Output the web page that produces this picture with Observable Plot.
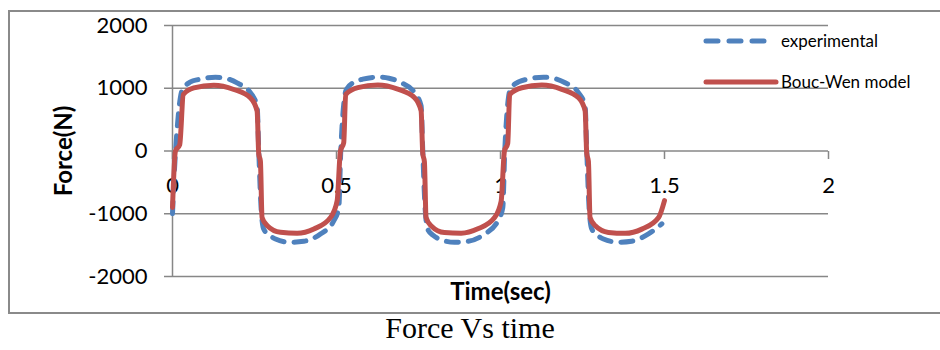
<!DOCTYPE html>
<html><head><meta charset="utf-8">
<script src="https://cdn.jsdelivr.net/npm/d3@7"></script>
<script src="https://cdn.jsdelivr.net/npm/@observablehq/plot@0.6"></script>
<style>
body{margin:0;background:#fff;}
#wrap{position:relative;width:940px;height:350px;overflow:hidden;font-family:Lato, sans-serif;}
#frame{position:absolute;left:8px;top:10px;width:1000px;height:300px;border:2px solid #8a8a8a;}
#chart{position:absolute;left:0;top:0;}
.leg{position:absolute;left:703px;font-size:17px;color:#000;}
.leg svg{position:absolute;left:0;top:0;}
.leg span{position:absolute;left:78px;top:0;white-space:nowrap;line-height:20px;}
#caption{position:absolute;left:0;top:313px;width:940px;text-align:center;font-family:"Liberation Serif","Times New Roman",serif;font-size:30px;line-height:30px;color:#000;}
</style></head>
<body>
<div id="wrap">
  <div id="frame"></div>
  <div id="chart"></div>
  <div id="legend"></div>
  <div id="caption"></div>
</div>
<script>
const yTicks = [-2000, -1000, 0, 1000, 2000];
const xTicks = [0, 0.5, 1, 1.5, 2];
const xTickLabels = ["0", "0.5", "1", "1.5", "2"];
const seriesNames = ["experimental", "Bouc-Wen model"];
const yTitle = "Force(N)";
const xTitle = "Time(sec)";
const captionText = "Force Vs time";

const expT = [0.000,0.006,0.012,0.030,0.055,0.080,0.131,0.160,0.197,0.238,0.258,0.263,0.270,0.278,0.295,0.314,0.360,0.400,0.451,0.492,0.507,
  0.513,0.530,0.555,0.580,0.631,0.660,0.697,0.738,0.758,0.763,0.770,0.778,0.795,0.814,0.860,0.900,0.951,0.992,1.007,
  1.013,1.030,1.055,1.080,1.131,1.160,1.197,1.238,1.258,1.263,1.270,1.278,1.295,1.314,1.360,1.400,1.451,1.492];
const expF = [-1000,-300,200,980,1100,1140,1175,1160,1085,925,714,0,-900,-1243,-1340,-1402,-1455,-1439,-1323,-1111,-900,
  0,980,1100,1145,1178,1160,1090,930,720,0,-900,-1245,-1345,-1405,-1455,-1440,-1325,-1115,-900,
  0,985,1100,1142,1176,1160,1088,928,716,0,-900,-1240,-1342,-1403,-1453,-1438,-1322,-1160];

const modelT = [0.000,0.009,0.022,0.033,0.065,0.126,0.187,0.238,0.258,0.263,0.268,0.273,0.289,0.329,0.380,0.431,0.482,0.502,
  0.512,0.522,0.528,0.565,0.626,0.687,0.738,0.758,0.763,0.768,0.773,0.789,0.829,0.880,0.931,0.982,1.002,
  1.012,1.022,1.028,1.065,1.126,1.187,1.238,1.258,1.263,1.268,1.273,1.289,1.329,1.380,1.431,1.482,1.500];
const modelF = [-900,0,100,900,1005,1048,980,846,635,-50,-160,-1058,-1190,-1296,-1312,-1243,-1058,-794,
  0,130,900,1010,1050,985,850,640,-40,-170,-1060,-1195,-1300,-1310,-1240,-1060,-800,
  0,120,900,1008,1050,983,848,640,-45,-165,-1060,-1192,-1298,-1312,-1245,-1060,-790];

const colors = ["#4F81BD", "#C0504D"];
const exp = expT.map((t, i) => ({t, f: expF[i]}));
const model = modelT.map((t, i) => ({t, f: modelF[i]}));

const gridColor = "#878787";
const tickSymbol = {draw(ctx) { ctx.moveTo(0, 0); ctx.lineTo(0, 8); }};

const chart = Plot.plot({
  width: 940, height: 312,
  marginLeft: 172, marginRight: 112, marginTop: 25, marginBottom: 36,
  x: {domain: [0, 2], axis: null},
  y: {domain: [-2000, 2000]},
  style: {fontFamily: "Lato, sans-serif", background: "transparent", overflow: "visible", color: "#000"},
  marks: [
    Plot.ruleY(yTicks, {stroke: gridColor, strokeWidth: 1.5}),
    Plot.ruleX([0], {stroke: gridColor, strokeWidth: 1.5}),
    Plot.axisY(yTicks, {tickSize: 8, tickPadding: 17, fontSize: 22, stroke: gridColor, strokeWidth: 1.5, tickFormat: d => String(d), label: null}),
    Plot.dot(xTicks, {x: d => d, y: () => 0, symbol: tickSymbol, stroke: gridColor, strokeWidth: 1.5, fill: "none"}),
    Plot.text(xTicks, {x: d => d, y: () => 0, text: (d, i) => xTickLabels[i], dy: 35, fontSize: 22, fill: "#000"}),
    Plot.line(exp, {x: "t", y: "f", stroke: colors[0], strokeWidth: 5, strokeDasharray: "12,10", strokeLinecap: "round", curve: "monotone-x"}),
    Plot.line(model, {x: "t", y: "f", stroke: colors[1], strokeWidth: 5, strokeLinecap: "round", strokeLinejoin: "round", curve: "monotone-x"}),
    Plot.text([yTitle], {frameAnchor: "left", dx: -108, rotate: -90, textAnchor: "middle", lineAnchor: "middle", fontWeight: "bold", fontSize: 24, fill: "#000"}),
    Plot.text([xTitle], {frameAnchor: "bottom", dy: 16, textAnchor: "middle", lineAnchor: "middle", fontWeight: "bold", fontSize: 24, fill: "#000"})
  ]
});
document.getElementById("chart").appendChild(chart);

const legend = document.getElementById("legend");
[{top: 31, dash: "12,11"}, {top: 72, dash: null}].forEach((l, i) => {
  const d = document.createElement("div");
  d.className = "leg";
  d.style.top = l.top + "px";
  const len = i === 0 ? 60 : 70;
  d.innerHTML = `<svg width="80" height="20"><line x1="3" y1="10" x2="${3 + len}" y2="10" stroke="${colors[i]}" stroke-width="5" stroke-linecap="round" ${l.dash ? `stroke-dasharray="${l.dash}"` : ""}/></svg><span>${seriesNames[i]}</span>`;
  legend.appendChild(d);
});
document.getElementById("caption").textContent = captionText;
</script>
</body></html>
